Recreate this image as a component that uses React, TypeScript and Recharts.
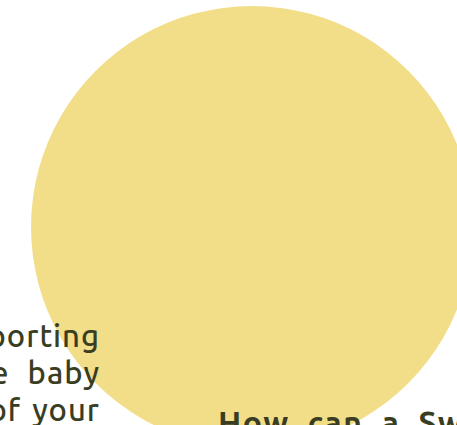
import React from 'react'
import { PieChart, Pie, Cell } from 'recharts'

// single full-circle disc
const shapes = ['disc']
const shapeValues = [1]

// text fragments visible around the disc
const bodyLines = ['porting', 'e baby', 'of your']
const bodyWordSpacing = [0, 10, 3]
const headingWords = 'How can a Sw'

const W = 457
const H = 425
const DISC = '#f2de89'
const INK = '#393d22'
const FONT = 'Ubuntu, "Noto Sans", "Open Sans", sans-serif'

const discData = shapes.map((name, i) => ({ name, value: shapeValues[i] }))

export default function App() {
  return (
    <div
      style={{
        position: 'absolute',
        top: 0,
        left: 0,
        width: W,
        height: H,
        overflow: 'hidden',
        background: '#ffffff'
      }}
    >
      <PieChart width={W} height={H} margin={{ top: 0, right: 0, bottom: 0, left: 0 }}>
        <Pie
          data={discData}
          dataKey="value"
          nameKey="name"
          cx={252}
          cy={227}
          innerRadius={0}
          outerRadius={221}
          startAngle={90}
          endAngle={-270}
          stroke="none"
          isAnimationActive={false}
        >
          {discData.map((d) => (
            <Cell key={d.name} fill={DISC} />
          ))}
        </Pie>
      </PieChart>

      {/* left column, right aligned and cut at the page edge */}
      {bodyLines.map((line, i) => (
        <div
          key={line}
          style={{
            position: 'absolute',
            right: W - 100,
            top: 317 + i * 37,
            whiteSpace: 'pre',
            fontFamily: FONT,
            fontSize: 31,
            fontWeight: 500,
            lineHeight: '37px',
            letterSpacing: 1,
            wordSpacing: bodyWordSpacing[i],
            color: INK
          }}
        >
          {line}
        </div>
      ))}

      <div
        style={{
          position: 'absolute',
          left: 218,
          top: 404,
          whiteSpace: 'pre',
          fontFamily: FONT,
          fontSize: 32,
          fontWeight: 700,
          lineHeight: '37px',
          letterSpacing: 1.5,
          wordSpacing: 9,
          color: INK
        }}
      >
        {headingWords}
      </div>
    </div>
  )
}
